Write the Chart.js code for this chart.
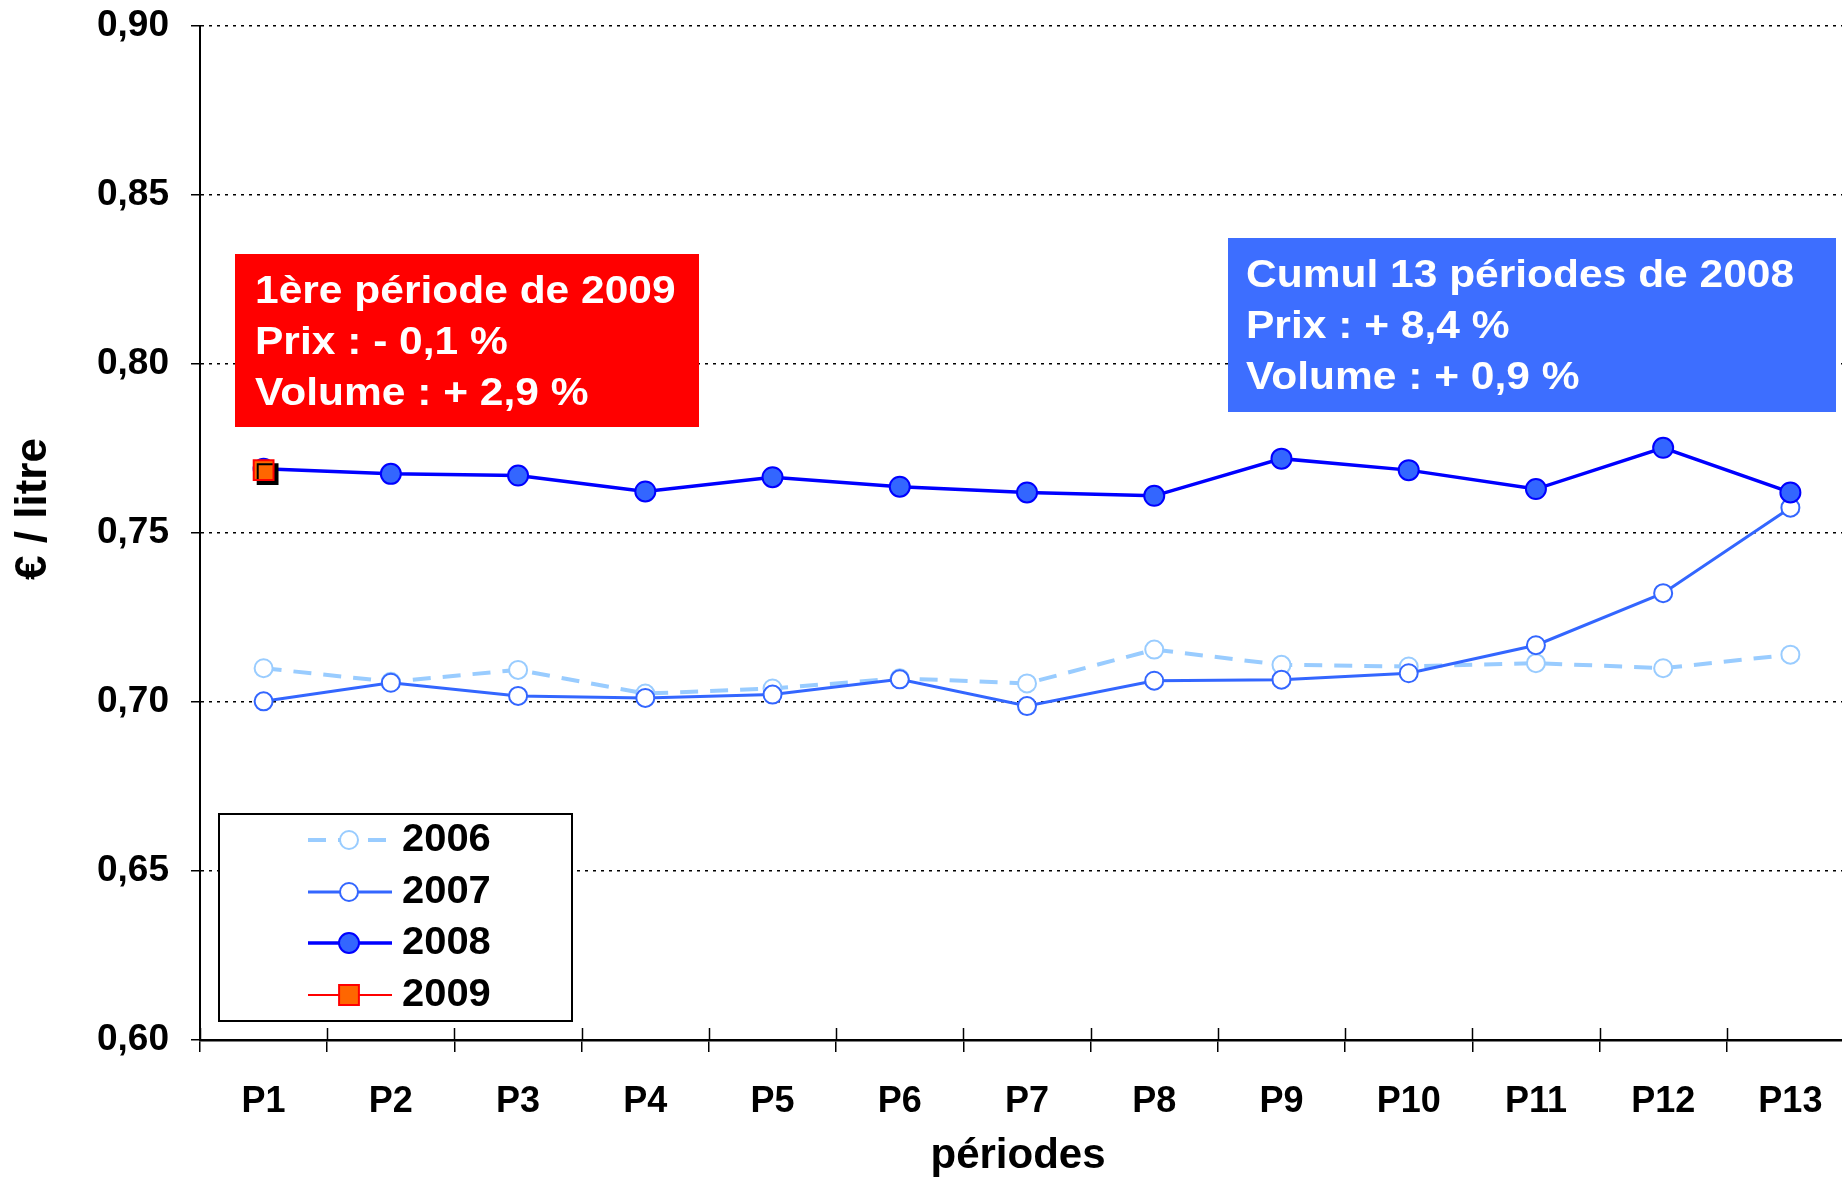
<!DOCTYPE html>
<html>
<head>
<meta charset="utf-8">
<script src="https://cdn.jsdelivr.net/npm/chart.js@4.4.1/dist/chart.umd.min.js"></script>
<style>
  html, body { margin: 0; padding: 0; background: #fff; overflow: hidden; }
  #wrap { width: 1842px; height: 1178px; overflow: hidden; }
</style>
</head>
<body>
<div id="wrap"><canvas id="prixChart" width="1870" height="1178"></canvas></div>
<script>
var periodes = ['P1','P2','P3','P4','P5','P6','P7','P8','P9','P10','P11','P12','P13'];
var prix2006 = [0.710, 0.706, 0.7095, 0.7025, 0.704, 0.707, 0.7055, 0.7155, 0.711, 0.7105, 0.7115, 0.710, 0.714];
var prix2007 = [0.7002, 0.7057, 0.7018, 0.7012, 0.7022, 0.7067, 0.6988, 0.7063, 0.7066, 0.7085, 0.7168, 0.7322, 0.7575];
var prix2008 = [0.769, 0.7675, 0.767, 0.7623, 0.7665, 0.7637, 0.762, 0.761, 0.772, 0.7686, 0.763, 0.7752, 0.762];
var prix2009 = [0.7686];
var yTicks = ['0,60','0,65','0,70','0,75','0,80','0,85','0,90'];

var FONT = '"Liberation Sans", Arial, sans-serif';

// text a bit wider, like the original
function wideText(ctx, txt, x, y, sx) {
  ctx.save();
  ctx.translate(x, y);
  ctx.scale(sx, 1);
  ctx.fillText(txt, 0, 0);
  ctx.restore();
}

// boxes, legend, titles, cross ticks
var extras = {
  id: 'extras',
  beforeDatasetDraw: function(chart, args) {
    if (args.meta.label === '2009') {
      chart.ctx.shadowColor = '#000';
      chart.ctx.shadowOffsetX = 4;
      chart.ctx.shadowOffsetY = 4;
    }
  },
  afterDatasetDraw: function(chart, args) {
    chart.ctx.shadowColor = 'rgba(0,0,0,0)';
    chart.ctx.shadowOffsetX = 0;
    chart.ctx.shadowOffsetY = 0;
  },
  afterDraw: function(chart) {
    var ctx = chart.ctx;
    var area = chart.chartArea;
    ctx.save();

    // x ticks going up a bit from the axis
    ctx.strokeStyle = '#000';
    ctx.lineWidth = 1.5;
    var w = (area.right - area.left) / periodes.length;
    for (var i = 0; i <= periodes.length; i++) {
      var x = Math.round(area.left + i * w) + 0.5;
      ctx.beginPath();
      ctx.moveTo(x, area.bottom);
      ctx.lineTo(x, area.bottom - 12);
      ctx.stroke();
    }

    // axis titles
    ctx.fillStyle = '#000';
    ctx.font = 'bold 42px ' + FONT;
    ctx.textAlign = 'center';
    ctx.textBaseline = 'middle';
    ctx.fillText('périodes', 1018, 1156);
    ctx.save();
    ctx.translate(34, 509);
    ctx.rotate(-Math.PI / 2);
    ctx.font = 'bold 44px ' + FONT;
    ctx.fillText('€ / litre', 0, 0);
    ctx.restore();

    // red box
    ctx.fillStyle = '#FF0000';
    ctx.fillRect(235, 254, 464, 173);
    ctx.fillStyle = '#FFFFFF';
    ctx.font = 'bold 39px ' + FONT;
    ctx.textBaseline = 'middle';
    ctx.textAlign = 'left';
    wideText(ctx, '1ère période de 2009', 255, 292, 1.09);
    wideText(ctx, 'Prix : - 0,1 %', 255, 343, 1.09);
    wideText(ctx, 'Volume : + 2,9 %', 255, 394, 1.09);

    // blue box
    ctx.fillStyle = '#3D6EFF';
    ctx.fillRect(1228, 238, 608, 174);
    ctx.fillStyle = '#FFFFFF';
    wideText(ctx, 'Cumul 13 périodes de 2008', 1246, 276, 1.09);
    wideText(ctx, 'Prix : + 8,4 %', 1246, 327, 1.09);
    wideText(ctx, 'Volume : + 0,9 %', 1246, 378, 1.09);

    // legend
    ctx.fillStyle = '#FFFFFF';
    ctx.fillRect(219, 814, 353, 207);
    ctx.strokeStyle = '#000';
    ctx.lineWidth = 2;
    ctx.strokeRect(219, 814, 353, 207);
    var rows = [840, 892, 943, 995];
    chart.data.datasets.forEach(function(ds, k) {
      var y = rows[k];
      ctx.save();
      ctx.strokeStyle = ds.borderColor;
      ctx.lineWidth = ds.borderWidth;
      ctx.setLineDash(ds.borderDash || []);
      ctx.beginPath();
      ctx.moveTo(308, y);
      ctx.lineTo(392, y);
      ctx.stroke();
      ctx.setLineDash([]);
      ctx.fillStyle = ds.pointBackgroundColor;
      ctx.strokeStyle = ds.pointBorderColor;
      ctx.lineWidth = ds.pointBorderWidth;
      ctx.beginPath();
      if (ds.pointStyle === 'rect') {
        var s = ds.pointRadius * Math.SQRT1_2;
        ctx.rect(349 - s, y - s, 2 * s, 2 * s);
      } else {
        ctx.arc(349, y, ds.pointRadius, 0, Math.PI * 2);
      }
      ctx.fill();
      ctx.stroke();
      ctx.restore();
      ctx.fillStyle = '#000';
      ctx.font = 'bold 38px ' + FONT;
      ctx.textAlign = 'left';
      ctx.textBaseline = 'middle';
      wideText(ctx, ds.label, 402, y + 1, 1.05);
    });

    ctx.restore();
  }
};

var data = {
  labels: periodes,
  datasets: [
    {
      label: '2006',
      data: prix2006,
      borderColor: '#99CCFF',
      borderWidth: 4,
      borderDash: [18, 12],
      pointStyle: 'circle',
      pointRadius: 9,
      pointBackgroundColor: '#FFFFFF',
      pointBorderColor: '#99CCFF',
      pointBorderWidth: 2,
      order: 3
    },
    {
      label: '2007',
      data: prix2007,
      borderColor: '#3366FF',
      borderWidth: 3,
      pointStyle: 'circle',
      pointRadius: 9,
      pointBackgroundColor: '#FFFFFF',
      pointBorderColor: '#3366FF',
      pointBorderWidth: 2,
      order: 2
    },
    {
      label: '2008',
      data: prix2008,
      borderColor: '#0000FF',
      borderWidth: 3.5,
      pointStyle: 'circle',
      pointRadius: 10,
      pointBackgroundColor: '#3366FF',
      pointBorderColor: '#0000FF',
      pointBorderWidth: 2,
      order: 1
    },
    {
      label: '2009',
      data: prix2009,
      borderColor: '#FF0000',
      borderWidth: 2,
      pointStyle: 'rect',
      pointRadius: 14,
      pointBackgroundColor: '#FF6600',
      pointBorderColor: '#FF0000',
      pointBorderWidth: 2,
      order: 0
    }
  ]
};

var config = {
  type: 'line',
  data: data,
  options: {
    responsive: false,
    animation: false,
    devicePixelRatio: 1,
    layout: { padding: { top: 26, right: 10, left: 0, bottom: 0 } },
    plugins: { legend: { display: false }, tooltip: { enabled: false } },
    scales: {
      x: {
        offset: true,
        afterFit: function(scale) { scale.height = 138; scale.paddingLeft = 0; scale.paddingRight = 0; },
        grid: { offset: true, drawOnChartArea: false, color: '#000', lineWidth: 1.5, tickLength: 12 },
        border: { color: '#000', width: 2.5 },
        ticks: { color: '#000', font: { family: FONT, size: 36, weight: 'bold' }, padding: 28, maxRotation: 0, autoSkip: false }
      },
      y: {
        min: 0.6,
        max: 0.9,
        afterFit: function(scale) { scale.width = 200; scale.paddingTop = 0; scale.paddingBottom = 0; },
        afterBuildTicks: function(scale) {
          scale.ticks = yTicks.map(function(t) { return { value: parseFloat(t.replace(',', '.')) }; });
        },
        grid: { color: '#000', lineWidth: 1.5, tickLength: 9, tickBorderDash: [] },
        border: { color: '#000', width: 2, dash: [3, 5] },
        ticks: {
          color: '#000',
          font: { family: FONT, size: 37, weight: 'bold' },
          padding: 22,
          callback: function(v) { return yTicks[Math.round((v - 0.6) / 0.05)]; }
        }
      }
    }
  },
  plugins: [extras]
};

var myChart = new Chart(document.getElementById('prixChart'), config);
</script>
</body>
</html>
